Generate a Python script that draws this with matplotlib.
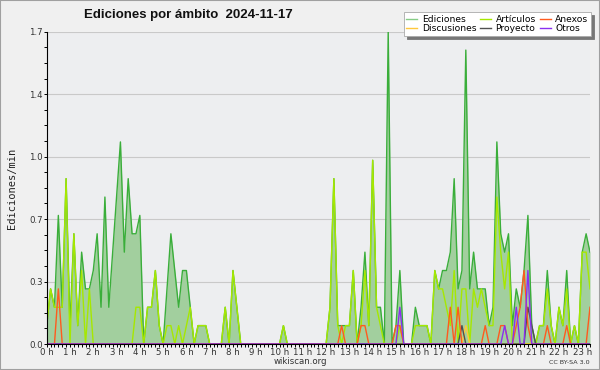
import numpy as np
import matplotlib
matplotlib.use("Agg")
import matplotlib.pyplot as plt
from matplotlib.lines import Line2D
from matplotlib.patches import Rectangle
from matplotlib.ticker import FixedLocator, MultipleLocator, FuncFormatter

# ---- data: edits per minute, 10-minute bins starting at 00:00 ----
ediciones = [
    0.1, 0.3, 0.2, 0.7, 0.2, 0.9, 0.1, 0.6, 0.1, 0.5,   # 0:00
    0.3, 0.3, 0.4, 0.6, 0.2, 0.8, 0.2, 0.5, 0.8, 1.1,   # 1:40
    0.5, 0.9, 0.6, 0.6, 0.7, 0.0, 0.2, 0.2, 0.4, 0.1,   # 3:20
    0.0, 0.3, 0.6, 0.4, 0.2, 0.4, 0.4, 0.2, 0.0, 0.1,   # 5:00
    0.1, 0.1, 0.0, 0.0, 0.0, 0.0, 0.2, 0.0, 0.4, 0.2,   # 6:40
    0.0, 0.0, 0.0, 0.0, 0.0, 0.0, 0.0, 0.0, 0.0, 0.0,   # 8:20
    0.0, 0.1, 0.0, 0.0, 0.0, 0.0, 0.0, 0.0, 0.0, 0.0,   # 10:00
    0.0, 0.0, 0.0, 0.2, 0.9, 0.1, 0.1, 0.1, 0.1, 0.4,   # 11:40
    0.0, 0.2, 0.5, 0.1, 1.0, 0.2, 0.2, 0.0, 1.7, 0.0,   # 13:20
    0.1, 0.4, 0.0, 0.0, 0.0, 0.2, 0.1, 0.1, 0.1, 0.0,   # 15:00
    0.4, 0.3, 0.4, 0.4, 0.5, 0.9, 0.3, 0.4, 1.6, 0.3,   # 16:40
    0.5, 0.3, 0.3, 0.3, 0.1, 0.2, 1.1, 0.6, 0.5, 0.6,   # 18:20
    0.1, 0.3, 0.2, 0.4, 0.7, 0.1, 0.0, 0.1, 0.1, 0.4,   # 20:00
    0.1, 0.0, 0.2, 0.1, 0.4, 0.0, 0.1, 0.0, 0.5, 0.6,   # 21:40
    0.5,                                                # 23:20
]
articulos = [
    0.1, 0.3, 0.2, 0.2, 0.2, 0.9, 0.0, 0.6, 0.1, 0.4,
    0.0, 0.3, 0.0, 0.0, 0.0, 0.0, 0.0, 0.0, 0.0, 0.0,
    0.0, 0.0, 0.0, 0.2, 0.2, 0.0, 0.2, 0.2, 0.4, 0.1,
    0.0, 0.1, 0.1, 0.0, 0.1, 0.0, 0.1, 0.2, 0.0, 0.1,
    0.1, 0.1, 0.0, 0.0, 0.0, 0.0, 0.2, 0.0, 0.4, 0.2,
    0.0, 0.0, 0.0, 0.0, 0.0, 0.0, 0.0, 0.0, 0.0, 0.0,
    0.0, 0.1, 0.0, 0.0, 0.0, 0.0, 0.0, 0.0, 0.0, 0.0,
    0.0, 0.0, 0.0, 0.2, 0.9, 0.1, 0.0, 0.1, 0.1, 0.4,
    0.0, 0.1, 0.4, 0.1, 1.0, 0.2, 0.1, 0.0, 0.0, 0.0,
    0.0, 0.1, 0.0, 0.0, 0.0, 0.1, 0.1, 0.1, 0.1, 0.0,
    0.4, 0.3, 0.3, 0.2, 0.1, 0.4, 0.0, 0.3, 0.3, 0.0,
    0.3, 0.2, 0.3, 0.2, 0.1, 0.1, 0.8, 0.5, 0.3, 0.5,
    0.0, 0.0, 0.0, 0.0, 0.0, 0.0, 0.0, 0.1, 0.1, 0.3,
    0.1, 0.0, 0.2, 0.1, 0.3, 0.0, 0.1, 0.0, 0.5, 0.5,
    0.3,
]
# sparse series: bin index -> value
anexos_bins = [3, 76, 81, 82, 90, 91, 104, 106, 113, 117, 118, 121, 122, 123, 124, 129, 134, 140]
anexos_vals = [0.3, 0.1, 0.1, 0.1, 0.1, 0.1, 0.2, 0.2, 0.1, 0.1, 0.1, 0.1, 0.2, 0.4, 0.1, 0.1, 0.1, 0.2]
otros_bins = [91, 118, 121, 124]
otros_vals = [0.2, 0.1, 0.2, 0.4]
proyecto_bins = [107, 124, 125]
proyecto_vals = [0.1, 0.2, 0.1]
discusiones_bins = [108]
discusiones_vals = [0.1]

hour_labels = [f"{h} h" for h in range(24)]

n = len(ediciones)
t = np.arange(n) / 6.0  # hours


def sparse(bins, vals):
    a = np.zeros(n)
    a[bins] = vals
    return a


anexos = sparse(anexos_bins, anexos_vals)
otros = sparse(otros_bins, otros_vals)
proyecto = sparse(proyecto_bins, proyecto_vals)
discusiones = sparse(discusiones_bins, discusiones_vals)

# ---- colours ----
C_FILL = "#a2cf9e"
C_ED = "#3aae3a"
C_ART = "#a6e800"
C_ANX = "#ff5a1e"
C_DIS = "#ffc83c"
C_PRO = "#505050"
C_OTR = "#8a30f0"

fig = plt.figure(figsize=(6, 3.7), dpi=100, facecolor="#f0f0f0")
ax = fig.add_axes([46.7 / 600, 26 / 370, (590 - 46.7) / 600, (344 - 31.7) / 370])
ax.set_facecolor("#edeef0")

ax.fill_between(t, 0, ediciones, color=C_FILL, lw=0, zorder=2)
ax.plot(t, ediciones, color=C_ED, lw=1.0, zorder=3)
ax.plot(t, articulos, color=C_ART, lw=1.0, zorder=4)
ax.plot(t, discusiones, color=C_DIS, lw=1.0, zorder=5)
ax.plot(t, proyecto, color=C_PRO, lw=1.0, zorder=5)
ax.plot(t, anexos, color=C_ANX, lw=1.0, zorder=6)
ax.plot(t, otros, color=C_OTR, lw=1.0, zorder=7)

ax.set_xlim(0, t[-1])
ax.set_ylim(0, 1.7)

yt = np.linspace(0, 1.7, 6)
ax.yaxis.set_major_locator(FixedLocator(yt))
ax.yaxis.set_minor_locator(MultipleLocator(0.085))
ax.yaxis.set_major_formatter(FuncFormatter(lambda v, p: f"{v:.1f}"))
for y in yt[1:]:
    ax.axhline(y, color="#c9c9c9", lw=0.8, zorder=1)

ax.set_xticks(range(24))
ax.set_xticklabels(hour_labels)
ax.xaxis.set_minor_locator(MultipleLocator(1 / 6))

for s in ("top", "right"):
    ax.spines[s].set_visible(False)
for s in ("left", "bottom"):
    ax.spines[s].set_color("black")
    ax.spines[s].set_linewidth(0.8)
    ax.spines[s].set_zorder(8)

ax.tick_params(axis="both", which="major", length=2.5, width=0.7, color="black",
               labelsize=6.2, labelcolor="#333333", pad=0.5)
ax.tick_params(axis="both", which="minor", length=2.2, width=0.7, color="black")

fig.text(188 / 600, 1 - 15 / 370, "Ediciones por ámbito  2024-11-17",
         ha="center", va="center", fontsize=9.5, fontweight="bold",
         family="Liberation Sans", color="#111111")
fig.text(12 / 600, 1 - 188 / 370, "Ediciones/min", rotation=90, ha="center", va="center",
         family="DejaVu Sans Mono", fontsize=7.5, color="#222222")
fig.text(300 / 600, 1 - 362 / 370, "wikiscan.org", ha="center", va="center",
         fontsize=6.2, color="#333333")
fig.text(590 / 600, 1 - 362 / 370, "CC BY-SA 3.0", ha="right", va="center",
         fontsize=4.6, color="#333333")

handles = [
    Line2D([], [], color="#86cc86", lw=1.0),
    Line2D([], [], color=C_DIS, lw=1.0),
    Line2D([], [], color=C_ART, lw=1.0),
    Line2D([], [], color=C_PRO, lw=1.0),
    Line2D([], [], color=C_ANX, lw=1.0),
    Line2D([], [], color=C_OTR, lw=1.0),
]
labels = ["Ediciones", "Discusiones", "Artículos", "Proyecto", "Anexos", "Otros"]
leg = fig.legend(handles, labels, ncol=3, loc="upper right",
                 bbox_to_anchor=(591 / 600, 1 - 12 / 370),
                 fontsize=6.6, frameon=True, fancybox=False, framealpha=1,
                 edgecolor="#aaaaaa", facecolor="white",
                 shadow={"color": "#777777", "alpha": 1, "ox": 2.5, "oy": -2.5},
                 handlelength=1.2, handletextpad=0.5, columnspacing=0.4,
                 labelspacing=0.0, borderpad=0.3, borderaxespad=0)
leg.get_frame().set_linewidth(0.6)

fig.add_artist(Rectangle((0, 0), 1, 1, transform=fig.transFigure, fill=False,
                         edgecolor="#a0a0a0", lw=1.5, zorder=10))

fig.savefig("out.png", dpi=100, facecolor=fig.get_facecolor())
